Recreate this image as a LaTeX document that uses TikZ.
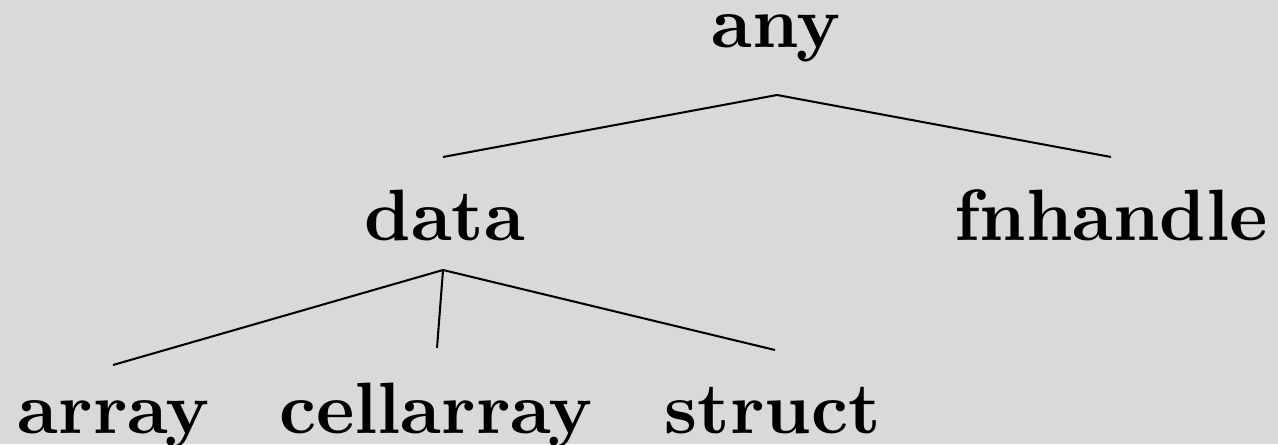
\documentclass[tikz,border=0pt]{standalone}
\usepackage{tikz}
\definecolor{bg}{HTML}{D9D9D9}
\begin{document}
\begin{tikzpicture}[x=0.1375pt,y=-0.1375pt,
  lbl/.style={anchor=base,inner sep=0pt,font=\bfseries},
  edge/.style={line width=0.28pt}]
\fill[bg] (0,0) rectangle (1278,444);
\useasboundingbox (0,0) rectangle (1278,444);
\node[lbl] (any) at (776,48) {any};
\node[lbl] (data) at (445,241) {data};
\node[lbl] (fnh) at (1111,241) {fnhandle};
\node[lbl] (array) at (114,433) {array};
\node[lbl] (cell) at (436,433) {cellarray};
\node[lbl] (struct) at (773,433) {struct};
\coordinate (anyB) at (777,95);
\coordinate (dataT) at (443,157);
\coordinate (fnhT) at (1111,157);
\coordinate (dataB) at (443,270);
\coordinate (arrayT) at (113,365);
\coordinate (cellT) at (437,348);
\coordinate (structT) at (775,350);
\draw[edge] (dataT) -- (anyB) -- (fnhT);
\draw[edge] (arrayT) -- (dataB) -- (structT);
\draw[edge] (dataB) -- (cellT);
\end{tikzpicture}
\end{document}
